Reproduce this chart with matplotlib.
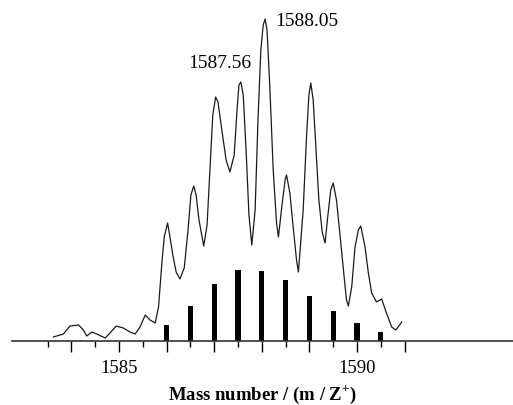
import matplotlib
matplotlib.use("Agg")
import matplotlib.pyplot as plt
import numpy as np

plt.rcParams['font.family'] = 'Liberation Serif'
plt.rcParams['mathtext.fontset'] = 'custom'
plt.rcParams['mathtext.rm'] = 'Liberation Serif'
plt.rcParams['mathtext.bf'] = 'Liberation Serif:bold'

mass = [1583.62, 1583.83, 1583.97, 1584.15, 1584.25, 1584.32, 1584.43, 1584.53,
        1584.71, 1584.81, 1584.94, 1585.09, 1585.23, 1585.34, 1585.44, 1585.55,
        1585.65, 1585.76, 1585.83, 1585.90, 1585.95, 1586.02, 1586.07, 1586.13,
        1586.20, 1586.28, 1586.37, 1586.45, 1586.51, 1586.57, 1586.62, 1586.68,
        1586.78, 1586.85, 1586.91, 1586.97, 1587.03, 1587.08, 1587.16, 1587.25,
        1587.33, 1587.42, 1587.48, 1587.52, 1587.56, 1587.61, 1587.67, 1587.73,
        1587.79, 1587.86, 1587.92, 1587.98, 1588.03, 1588.07, 1588.11, 1588.17,
        1588.24, 1588.31, 1588.35, 1588.42, 1588.49, 1588.52, 1588.59, 1588.66,
        1588.73, 1588.77, 1588.87, 1588.94, 1588.99, 1589.03, 1589.08, 1589.14,
        1589.20, 1589.27, 1589.33, 1589.39, 1589.45, 1589.50, 1589.57, 1589.64,
        1589.71, 1589.78, 1589.82, 1589.89, 1589.96, 1590.03, 1590.08, 1590.17,
        1590.24, 1590.31, 1590.41, 1590.52, 1590.62, 1590.73, 1590.82, 1590.94]
intensity = [4, 7, 15, 16, 11, 5, 9, 7,
             3, 8, 15, 13, 9, 7, 14, 26,
             21, 18, 34, 78, 104, 118, 104, 86,
             69, 62, 73, 111, 146, 155, 146, 121,
             95, 116, 171, 226, 244, 239, 211, 181,
             169, 186, 231, 256, 259, 246, 191, 126,
             96, 131, 221, 291, 316, 322, 311, 253,
             171, 118, 104, 134, 161, 166, 148, 114,
             81, 69, 131, 204, 246, 258, 241, 191,
             141, 109, 98, 126, 151, 158, 141, 108,
             74, 41, 35, 54, 94, 111, 115, 94,
             68, 48, 39, 42, 28, 14, 11, 19]

# calculated isotope pattern
iso_mass = [1586.0, 1586.5, 1587.0, 1587.5, 1588.0,
            1588.5, 1589.0, 1589.5, 1590.0, 1590.5]
iso_int = [16, 35, 57, 71, 70, 61, 45, 30, 18, 9]

major_ticks = [1584, 1585, 1586, 1587, 1588, 1589, 1590, 1591]
tick_labels = ['', '1585', '', '', '', '', '1590', '']

fig = plt.figure(figsize=(5.13, 4.05), dpi=100)
ax = fig.add_axes([12 / 513, 64 / 405, 501 / 513, 330 / 405])

ax.plot(mass, intensity, color='#1a1a1a', lw=0.9)
ax.bar(iso_mass, iso_int, width=0.11, color='black')

ax.text(1588.28, 319.5, "1588.05", fontsize=14, ha='left', va='center')
ax.text(1587.79, 277.5, "1587.56", fontsize=14, ha='right', va='center')

ax.set_xlim(1582.75, 1593.28)
ax.set_ylim(0, 330)
for s in ('top', 'right', 'left'):
    ax.spines[s].set_visible(False)
ax.spines['bottom'].set_color('#333333')
ax.spines['bottom'].set_linewidth(1.2)
ax.set_yticks([])
ax.set_xticks(major_ticks)
ax.set_xticklabels(tick_labels)
ax.set_xticks(np.arange(1583.5, 1591.1, 0.5), minor=True)
ax.tick_params(axis='x', which='major', length=8, width=1, labelsize=13.5, pad=6)
ax.tick_params(axis='x', which='minor', length=4.5, width=1)
ax.set_xlabel(r"Mass number / (m / Z$^{\mathbf{+}}$)", fontsize=13.5,
              fontweight='bold', labelpad=4)

fig.savefig("out.png", dpi=100)
